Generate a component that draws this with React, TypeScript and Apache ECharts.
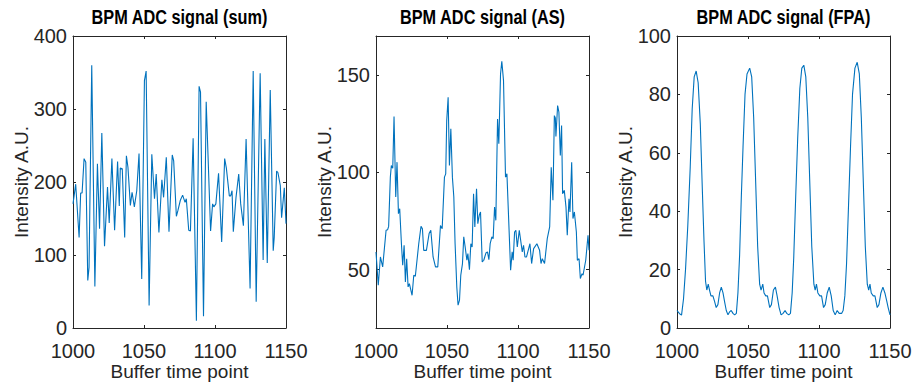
import React, { useEffect, useRef } from "react";
import * as echarts from "echarts";

const titles = ["BPM ADC signal (sum)", "BPM ADC signal (AS)", "BPM ADC signal (FPA)"];
const xLabel = "Buffer time point";
const yLabel = "Intensity A.U.";

const sumX = [1000, 1001.9, 1004.3, 1005.4, 1006.4, 1007.8, 1009.0, 1010.4, 1011.3, 1013.2, 1015.4, 1017.2, 1018.7, 1020.3, 1022.2, 1024.3, 1025.5, 1027.4, 1029.3, 1031.4, 1032.6, 1033.3, 1034.7, 1036.4, 1037.6, 1038.7, 1040.4, 1041.6, 1043.2, 1044.9, 1046.5, 1048.4, 1050.3, 1051.5, 1053.6, 1055.5, 1057.4, 1058.6, 1060.5, 1062.6, 1063.8, 1065.7, 1067.6, 1069.9, 1070.9, 1072.8, 1073.9, 1075.6, 1077.2, 1078.9, 1079.8, 1081.5, 1082.7, 1084.6, 1086.9, 1088.8, 1089.8, 1091.9, 1093.8, 1096.9, 1098.3, 1099.2, 1100.6, 1102.5, 1104.7, 1106.8, 1108.0, 1110.1, 1111.0, 1112.0, 1112.9, 1114.8, 1116.7, 1118.1, 1120.0, 1121.9, 1124.7, 1126.9, 1129.0, 1131.8, 1133.9, 1135.1, 1136.8, 1138.9, 1141.0, 1141.7, 1143.4, 1144.3, 1146.0, 1146.9, 1148.8, 1150];
const sumY = [170, 197, 124, 185, 185, 232, 227, 65, 83, 360, 57, 225, 136, 267, 112, 193, 144, 232, 134, 228, 167, 219, 218, 124, 236, 220, 168, 186, 166, 188, 239, 67, 339, 352, 31, 238, 177, 211, 131, 203, 179, 234, 132, 237, 229, 153, 161, 175, 182, 172, 177, 134, 133, 260, 10, 331, 323, 16, 310, 133, 170, 166, 170, 212, 118, 232, 219, 181, 181, 188, 132, 179, 211, 170, 140, 259, 54, 352, 36, 349, 93, 259, 89, 326, 106, 124, 215, 213, 195, 151, 192, 143];

const asX = [1000, 1001.6, 1003.1, 1004.7, 1005.9, 1007.1, 1008.2, 1008.9, 1010.1, 1010.8, 1011.8, 1012.7, 1013.9, 1014.8, 1015.8, 1016.7, 1017.9, 1018.8, 1019.8, 1020.7, 1021.6, 1022.6, 1023.5, 1025.4, 1026.6, 1027.7, 1030.1, 1031.7, 1032.7, 1033.6, 1035.5, 1037.4, 1038.6, 1040.2, 1041.9, 1043.5, 1045.4, 1046.6, 1048.2, 1049.1, 1049.8, 1050.8, 1051.7, 1052.7, 1053.8, 1054.8, 1055.7, 1056.9, 1057.8, 1058.8, 1059.7, 1060.9, 1061.8, 1062.8, 1064.0, 1064.7, 1065.8, 1066.8, 1067.7, 1068.7, 1069.6, 1070.8, 1071.7, 1072.7, 1073.6, 1074.8, 1075.9, 1077.4, 1078.5, 1079.5, 1080.4, 1081.6, 1082.5, 1083.5, 1084.4, 1085.6, 1086.5, 1087.7, 1088.6, 1089.8, 1091.2, 1092.2, 1094.8, 1095.9, 1096.6, 1097.6, 1098.5, 1099.5, 1100.9, 1103.0, 1103.9, 1104.9, 1106.0, 1108.4, 1109.6, 1111.0, 1113.3, 1115.2, 1116.2, 1117.1, 1118.7, 1120.6, 1122.3, 1123.4, 1124.6, 1125.6, 1126.3, 1126.7, 1127.9, 1128.8, 1129.8, 1130.7, 1131.4, 1132.6, 1133.8, 1134.7, 1135.9, 1136.6, 1137.8, 1138.7, 1139.7, 1141.1, 1141.8, 1143.0, 1143.9, 1145.1, 1145.8, 1147.7, 1149.3, 1150];
const asY = [59, 42.0, 56.5, 51.4, 60.8, 70.2, 70.5, 72.2, 97.5, 103.5, 102.1, 128.6, 87.3, 105.2, 78.7, 81.3, 63.3, 52.2, 62.5, 43.7, 55.6, 41.1, 42.8, 36.8, 47.1, 46.6, 63.3, 72.2, 71.0, 59.9, 59.9, 68.5, 70.2, 56.5, 51.4, 51.4, 72.7, 71.0, 97.5, 99.2, 126.6, 138.5, 103.5, 122.3, 97.5, 87.3, 63.3, 41.1, 31.7, 34.3, 47.1, 53.1, 66.8, 61.6, 54.8, 58.2, 50.0, 63.3, 61.6, 89.0, 71.9, 91.5, 73.6, 77.9, 79.6, 53.9, 54.8, 58.5, 59.1, 55.1, 63.3, 66.8, 65.9, 82.1, 75.3, 127.4, 114.6, 150.5, 157.0, 147.1, 97.5, 99.2, 49.7, 59.1, 54.8, 69.3, 70.2, 61.6, 70.2, 59.1, 62.5, 56.5, 56.5, 63.3, 53.1, 60.8, 63.3, 59.9, 53.1, 55.6, 53.1, 65.9, 71.9, 102.6, 85.6, 129.1, 127.9, 118.4, 134.3, 130.9, 108.6, 124.0, 89.0, 90.7, 82.1, 67.6, 86.4, 79.6, 105.2, 76.2, 79.6, 69.3, 54.8, 55.6, 45.4, 47.9, 47.1, 54.8, 67.6, 59.9];

const fpaX = [1000, 1001.8, 1003.2, 1004.6, 1006.0, 1007.6, 1009.3, 1010.7, 1012.1, 1013.5, 1014.9, 1016.4, 1017.8, 1019.0, 1020.1, 1021.0, 1022.0, 1022.9, 1023.9, 1025.3, 1026.5, 1027.6, 1028.8, 1030.0, 1031.2, 1032.4, 1033.5, 1034.7, 1035.9, 1037.0, 1038.2, 1039.4, 1040.6, 1041.8, 1042.9, 1044.1, 1045.3, 1046.5, 1047.9, 1049.3, 1051.2, 1052.6, 1054.0, 1055.4, 1056.8, 1058.2, 1059.2, 1060.4, 1061.3, 1062.5, 1063.7, 1065.3, 1066.5, 1067.9, 1069.3, 1070.5, 1071.9, 1073.3, 1074.7, 1076.1, 1077.3, 1078.7, 1079.9, 1081.1, 1082.2, 1083.6, 1085.0, 1086.5, 1087.9, 1089.3, 1090.7, 1092.1, 1093.5, 1094.9, 1096.4, 1097.3, 1098.2, 1099.2, 1100.6, 1101.8, 1103.2, 1104.4, 1105.8, 1107.2, 1108.6, 1110.0, 1111.4, 1112.8, 1114.2, 1115.9, 1117.0, 1118.2, 1119.4, 1120.8, 1122.2, 1123.6, 1125.3, 1126.9, 1128.4, 1129.8, 1131.2, 1132.6, 1134.0, 1135.0, 1135.9, 1136.8, 1138.2, 1139.4, 1141.0, 1142.2, 1143.6, 1145.0, 1146.4, 1147.8, 1148.7, 1150];
const fpaY = [6, 4.9, 4.4, 10, 20, 35, 55, 75, 86, 88, 84, 70, 48, 30, 16, 13, 15, 13, 11, 11, 9, 7, 8, 12, 14, 12, 9, 6, 4.5, 5.5, 6, 5, 4.5, 5, 12, 25, 45, 62, 80, 87, 89, 86, 72, 50, 28, 15, 13, 15, 12, 11, 11, 7, 8, 13, 14, 11, 7, 4.5, 5, 6, 5, 4.5, 5, 12, 24, 45, 65, 82, 89, 90, 86, 72, 50, 28, 15, 13, 15, 12, 11, 11, 7, 8, 12, 14, 11, 6, 4.5, 6, 5, 5, 6, 11, 22, 42, 62, 80, 89, 91, 87, 72, 50, 28, 15, 13, 15, 12, 11, 11, 7, 8, 12, 14, 12, 9, 7, 4.5];

const yMins = [0, 20, 0];
const yMaxs = [400, 170, 100];
const yTickVals = [[0, 100, 200, 300, 400], [50, 100, 150], [0, 20, 40, 60, 80, 100]];

const zip = (xs: number[], ys: number[]) => xs.map((x, i) => [x, ys[i]]);
const seriesData = [zip(sumX, sumY), zip(asX, asY), zip(fpaX, fpaY)];

const NARROW = "Liberation Sans Narrow, Arial Narrow, sans-serif";
const FONT = "Liberation Sans, Arial, Helvetica, sans-serif";
const AX = "#262626";
const gridLefts = [73, 376, 677];
const gridW = 213;
const gridTop = 36;
const gridH = 292;

export default function App() {
  const ref = useRef<HTMLDivElement>(null);
  useEffect(() => {
    if (!ref.current) return;
    const chart = echarts.init(ref.current, undefined, { renderer: "svg" });
    const grids: any[] = [];
    const xAxes: any[] = [];
    const yAxes: any[] = [];
    const series: any[] = [];
    const graphics: any[] = [];
    for (let i = 0; i < 3; i++) {
      grids.push({
        left: gridLefts[i],
        top: gridTop,
        width: gridW,
        height: gridH,
        containLabel: false,
        outerBoundsMode: "none",
      });
      graphics.push({
        type: "text",
        x: gridLefts[i] + gridW / 2,
        y: 17,
        scaleX: 1,
        scaleY: 1.22,
        style: {
          text: titles[i],
          fontFamily: FONT,
          fontSize: 16.3,
          fontWeight: "bold",
          fill: "#000",
          textAlign: "center",
          textVerticalAlign: "middle",
        },
      });
      const baseX = {
        type: "value",
        gridIndex: i,
        min: 1000,
        max: 1150,
        interval: 50,
        axisLine: { show: true, onZero: false, lineStyle: { color: AX, width: 1 } },
        axisTick: { show: true, inside: true, length: 3, lineStyle: { color: AX } },
        splitLine: { show: false },
      };
      xAxes.push({
        ...baseX,
        position: "bottom",
        name: xLabel,
        nameLocation: "middle",
        nameGap: 34,
        nameMoveOverlap: false,
        nameTextStyle: { fontFamily: FONT, fontSize: 19, color: AX },
        axisLabel: {
          show: true,
          margin: 13,
          fontFamily: NARROW,
          fontSize: 20,
          color: AX,
          formatter: (v: number) => String(v),
        },
      });
      xAxes.push({ ...baseX, position: "top", axisLabel: { show: false } });
      const baseY = {
        type: "value",
        gridIndex: i,
        min: yMins[i],
        max: yMaxs[i],
        axisLine: { show: true, onZero: false, lineStyle: { color: AX, width: 1 } },
        axisTick: { show: true, inside: true, length: 3, lineStyle: { color: AX }, customValues: yTickVals[i] },
        splitLine: { show: false },
      };
      yAxes.push({
        ...baseY,
        position: "left",
        name: yLabel,
        nameLocation: "middle",
        nameGap: 42,
        nameMoveOverlap: false,
        nameTextStyle: { fontFamily: FONT, fontSize: 19, color: AX },
        axisLabel: {
          show: true,
          margin: 6,
          fontFamily: NARROW,
          fontSize: 20,
          color: AX,
          customValues: yTickVals[i],
          formatter: (v: number) => String(v),
        },
      });
      yAxes.push({ ...baseY, position: "right", axisLabel: { show: false } });
      series.push({
        type: "line",
        xAxisIndex: i * 2,
        yAxisIndex: i * 2,
        data: seriesData[i],
        showSymbol: false,
        symbol: "none",
        smooth: false,
        lineStyle: { color: "#0072BD", width: 1.1 },
      });
    }
    chart.setOption({
      animation: false,
      backgroundColor: "#ffffff",
      graphic: graphics,
      grid: grids,
      xAxis: xAxes,
      yAxis: yAxes,
      series,
    });
    return () => chart.dispose();
  }, []);
  return (
    <div
      ref={ref}
      style={{ position: "fixed", left: 0, top: 0, width: 912, height: 385 }}
    />
  );
}
